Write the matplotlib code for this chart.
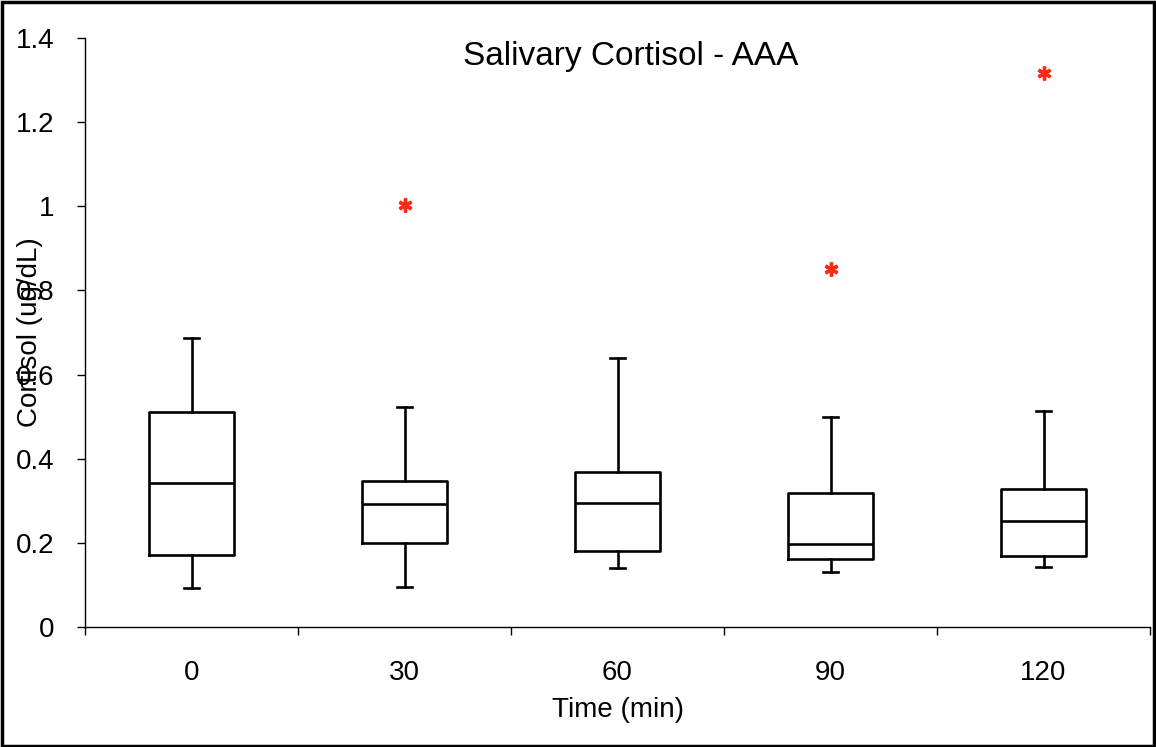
import matplotlib
matplotlib.use('Agg')
import matplotlib.pyplot as plt
from matplotlib.patches import Rectangle

# 数据：箱线图统计量
times = ['0', '30', '60', '90', '120']
whislo = [0.092, 0.094, 0.141, 0.131, 0.143]
q1 = [0.171, 0.199, 0.181, 0.162, 0.169]
med = [0.342, 0.293, 0.294, 0.197, 0.252]
q3 = [0.512, 0.347, 0.369, 0.318, 0.327]
whishi = [0.686, 0.524, 0.640, 0.500, 0.514]
outliers = [[], [1.003], [], [0.851], [1.317]]

y_ticks = [0, 0.2, 0.4, 0.6, 0.8, 1.0, 1.2, 1.4]
y_tick_labels = ['0', '0.2', '0.4', '0.6', '0.8', '1', '1.2', '1.4']

plt.rcParams['font.family'] = ['Liberation Sans', 'DejaVu Sans']

fig = plt.figure(figsize=(11.56, 7.47), dpi=100)
ax = fig.add_axes([85 / 1156, 1 - 627 / 747, 1065 / 1156, 589 / 747])

stats = []
for i in range(len(times)):
    stats.append({
        'label': times[i],
        'whislo': whislo[i],
        'q1': q1[i],
        'med': med[i],
        'q3': q3[i],
        'whishi': whishi[i],
        'fliers': outliers[i],
    })

lw = 1.9
ax.bxp(stats, positions=range(len(times)), widths=0.4, capwidths=0.075,
       boxprops=dict(color='black', linewidth=lw),
       medianprops=dict(color='black', linewidth=lw),
       whiskerprops=dict(color='black', linewidth=lw),
       capprops=dict(color='black', linewidth=lw),
       flierprops=dict(marker=(6, 2, 0), markersize=10, markeredgewidth=2.4,
                       markeredgecolor='#ff2a14', linestyle='none'))

ax.set_xlim(-0.5, len(times) - 0.5)
ax.set_ylim(0, 1.4)

# x轴：分类边界处画刻度，标签放在中间
ax.set_xticks([i - 0.5 for i in range(len(times) + 1)])
ax.set_xticklabels([])
ax.set_xticks(range(len(times)), minor=True)
ax.set_xticklabels(times, minor=True, fontsize=20)
ax.tick_params(axis='x', which='major', direction='out', length=6, width=1)
ax.tick_params(axis='x', which='minor', length=0, pad=24)

ax.set_yticks(y_ticks)
ax.set_yticklabels(y_tick_labels, fontsize=20)
ax.tick_params(axis='y', direction='out', length=6, width=1, pad=16)

ax.spines['top'].set_visible(False)
ax.spines['right'].set_visible(False)
ax.spines['left'].set_linewidth(1)
ax.spines['bottom'].set_linewidth(1)

ax.text(0.512, 0.968, 'Salivary Cortisol - AAA', transform=ax.transAxes,
        ha='center', va='center', fontsize=24)

fig.text(618 / 1156, 1 - 710 / 747, 'Time (min)', ha='center', va='center',
         fontsize=20)
fig.text(30 / 1156, 1 - 332 / 747, 'Cortisol (ug/dL)', ha='center',
         va='center', rotation=90, fontsize=20)

# 图片外框
fig.patches.append(Rectangle((0.002, 0.002), 0.996, 0.995, transform=fig.transFigure,
                             fill=False, edgecolor='black', linewidth=2.5))

fig.savefig('out.png', dpi=100)
